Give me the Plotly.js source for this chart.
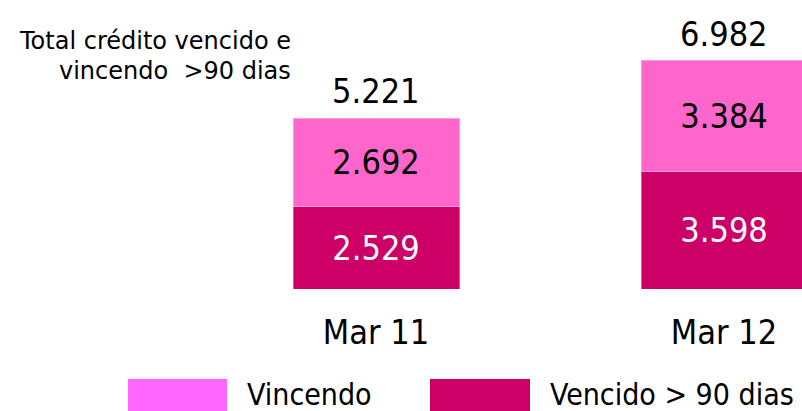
<!DOCTYPE html>
<html>
<head>
<meta charset="utf-8">
<script src="https://cdn.plot.ly/plotly-3.0.1.min.js"></script>
<style>html,body{margin:0;padding:0;background:#fff;}#chart{width:802px;height:411px;}</style>
</head>
<body>
<div id="chart"></div>
<script>
const categories = ["Mar 11", "Mar 12"];
const vencido = [2529, 3598];
const vincendo = [2692, 3384];
const seriesNames = ["Vincendo", "Vencido > 90 dias"];
const titleLines = ["Total crédito vencido e", "vincendo  >90 dias"];

const totals = categories.map((c, i) => vencido[i] + vincendo[i]);
const FONT = "DejaVu Sans Condensed, DejaVu Sans, sans-serif";
const FONT_T = "DejaVu Sans, sans-serif";
const L = 202, PW = 600, B = 289, PH = 262;
const px = x => (x - L) / PW;
const py = y => (B - y) / PH;

const traces = [
  {
    type: "bar", x: categories, y: vencido, name: seriesNames[1],
    marker: {color: "#CC0066", line: {color: "#E8559A", width: 1}},
    texttemplate: "%{y:,}", textposition: "inside", insidetextanchor: "middle",
    constraintext: "none",
    textfont: {family: FONT, size: 34, color: "#ffffff"},
    hoverinfo: "skip"
  },
  {
    type: "bar", x: categories, y: vincendo, name: seriesNames[0],
    marker: {color: "#FF66CC", line: {color: "#FF99DD", width: 1}},
    texttemplate: "%{y:,}", textposition: "inside", insidetextanchor: "middle",
    constraintext: "none",
    textfont: {family: FONT, size: 34, color: "#000000"},
    hoverinfo: "skip"
  }
];

const annotations = categories.map((c, i) => ({
  x: c, y: totals[i], xref: "x", yref: "y",
  text: totals[i].toLocaleString("de-DE"),
  showarrow: false, yanchor: "bottom", yshift: 5,
  font: {family: FONT, size: 34, color: "#000"}
}));
annotations.push(
  {xref: "paper", yref: "paper", x: px(293), y: py(41), xanchor: "right", yanchor: "middle",
   text: titleLines[0], showarrow: false, font: {family: FONT_T, size: 24, color: "#000"}},
  {xref: "paper", yref: "paper", x: px(293), y: py(71), xanchor: "right", yanchor: "middle",
   text: titleLines[1], showarrow: false, font: {family: FONT_T, size: 24, color: "#000"}},
  {xref: "paper", yref: "paper", x: px(245), y: py(394), xanchor: "left", yanchor: "middle",
   text: seriesNames[0], showarrow: false, font: {family: FONT, size: 30, color: "#000"}},
  {xref: "paper", yref: "paper", x: px(548), y: py(394), xanchor: "left", yanchor: "middle",
   text: seriesNames[1], showarrow: false, font: {family: FONT, size: 30, color: "#000"}}
);

const shapes = [
  {type: "rect", xref: "paper", yref: "paper", x0: px(128), x1: px(227), y0: py(379), y1: py(415),
   fillcolor: "#FF66FF", line: {width: 0}},
  {type: "rect", xref: "paper", yref: "paper", x0: px(430), x1: px(530), y0: py(379), y1: py(415),
   fillcolor: "#CC0066", line: {width: 0}}
];

const layout = {
  width: 802, height: 411,
  margin: {l: L, r: 0, t: B - PH, b: 411 - B, pad: 0},
  barmode: "stack",
  bargap: 1 - 166 / 348,
  separators: ",.",
  showlegend: false,
  paper_bgcolor: "#fff", plot_bgcolor: "#fff",
  xaxis: {
    type: "category", range: [-0.5, 1.224], showgrid: false, zeroline: false, showline: false,
    ticks: "outside", ticklen: 13, tickcolor: "rgba(0,0,0,0)",
    tickfont: {family: FONT, size: 34, color: "#000"}, fixedrange: true
  },
  yaxis: {range: [0, 8012], visible: false, fixedrange: true},
  annotations: annotations,
  shapes: shapes
};

Plotly.newPlot("chart", traces, layout, {staticPlot: true, displayModeBar: false});
</script>
</body>
</html>
